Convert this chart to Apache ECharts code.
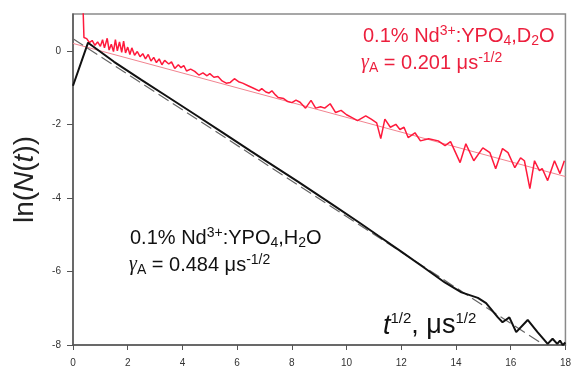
<!DOCTYPE html>
<html><head><meta charset="utf-8">
<script src="https://cdn.jsdelivr.net/npm/echarts@6/dist/echarts.min.js"></script>
<style>html,body{margin:0;padding:0;background:#fff}#c{width:574px;height:368px}</style>
</head><body><div id="c"></div>
<script>
const xTicks = [0, 2, 4, 6, 8, 10, 12, 14, 16, 18];
const yTicks = [-8, -6, -4, -2, 0];

// 0.1% Nd3+:YPO4, D2O  (red)
const d2oX = [0.35,0.40,0.5,0.6,0.7,0.8,0.9,1.0,1.08,1.15,1.25,1.32,1.4,1.48,1.55,1.62,1.7,1.78,1.85,1.92,2.0,2.08,2.15,2.25,2.35,2.45,2.55,2.65,2.75,2.85,2.95,3.05,3.15,3.25,3.35,3.5,3.6,3.72,3.85,3.95,4.05,4.15,4.3,4.45,4.6,4.75,4.9,5.0,5.15,5.3,5.45,5.6,5.75,5.9,6.05,6.2,6.4,6.6,6.8,6.9,7.05,7.16,7.27,7.4,7.5,7.7,7.85,8.0,8.15,8.3,8.5,8.7,8.87,9.05,9.2,9.4,9.6,9.8,10.0,10.2,10.4,10.7,10.9,11.1,11.25,11.4,11.6,11.8,11.95,12.1,12.25,12.5,12.7,13.0,13.35,13.6,13.8,14.15,14.36,14.65,14.98,15.24,15.45,15.7,15.9,16.15,16.36,16.5,16.7,16.87,17.05,17.15,17.35,17.6,17.8,17.96];
const d2oY = [1.6,0.36,0.33,0.22,0.28,0.15,0.24,0.12,0.30,0.08,0.34,0.02,0.18,-0.02,0.30,0.0,0.24,-0.04,0.26,-0.06,0.1,-0.1,0.08,-0.12,-0.02,-0.16,-0.08,-0.22,-0.1,-0.28,-0.18,-0.32,-0.22,-0.38,-0.26,-0.36,-0.3,-0.48,-0.38,-0.46,-0.40,-0.55,-0.5,-0.56,-0.66,-0.6,-0.68,-0.62,-0.72,-0.7,-0.82,-0.88,-0.86,-0.76,-0.84,-0.88,-0.95,-1.02,-1.09,-1.03,-1.12,-1.15,-1.09,-1.2,-1.27,-1.3,-1.38,-1.41,-1.34,-1.4,-1.56,-1.35,-1.56,-1.52,-1.56,-1.44,-1.68,-1.62,-1.74,-1.82,-1.9,-1.77,-1.86,-1.96,-2.39,-1.86,-2.08,-2.0,-2.14,-2.08,-2.36,-2.23,-2.45,-2.39,-2.45,-2.58,-2.47,-3.04,-2.53,-2.99,-2.64,-2.77,-3.21,-2.66,-2.77,-3.18,-2.91,-2.99,-3.75,-2.99,-3.26,-3.2,-3.53,-2.99,-3.34,-2.99];
const d2oFitX = [0, 18];
const d2oFitY = [0.2, -3.42];

// 0.1% Nd3+:YPO4, H2O  (black)
const h2oX = [0,0.55,1.5,2.5,3.5,4.6,5.5,6.5,7.5,8.25,9.5,10.5,11.16,12,12.8,13.59,14.2,14.8,15.1,15.53,15.7,15.95,16.2,16.62,16.98,17.35,17.53,17.7,17.8,17.9,18];
const h2oY = [-0.95,0.22,-0.30,-0.79,-1.27,-1.80,-2.24,-2.73,-3.21,-3.57,-4.19,-4.69,-5.03,-5.46,-5.88,-6.30,-6.57,-6.72,-6.86,-7.25,-7.38,-7.25,-7.65,-7.32,-7.65,-7.97,-7.83,-7.97,-7.88,-8.0,-7.93];
const h2oFitX = [0, 17.2];
const h2oFitY = [0.33, -7.99];

const zip = (a, b) => a.map((v, i) => [v, b[i]]);
const FONT = 'Liberation Sans, Arial, sans-serif';
const RED = '#ec1f3d';

function richSet(size, color, lh, supSize) {
  const s = supSize || 13;
  return {
    n: { fontSize: size, fontFamily: FONT, color: color, fill: color, lineHeight: lh },
    i: { fontSize: size, fontFamily: FONT, color: color, fill: color, fontStyle: 'italic', lineHeight: lh },
    g: { fontSize: size, fontFamily: 'Liberation Serif, serif', color: color, fill: color, fontStyle: 'italic', lineHeight: lh },
    sup: { fontSize: s, fontFamily: FONT, color: color, fill: color, verticalAlign: 'top', lineHeight: s + 2 },
    sub: { fontSize: s, fontFamily: FONT, color: color, fill: color, verticalAlign: 'bottom', lineHeight: s }
  };
}

const chart = echarts.init(document.getElementById('c'));
chart.setOption({
  animation: false,
  backgroundColor: '#fff',
  grid: { left: 73, right: 6, top: 14, bottom: 23, show: true, borderColor: '#8a8a8a', borderWidth: 1.5 },
  xAxis: {
    type: 'value', min: 0, max: 18, interval: 2,
    axisLine: { show: true, onZero: false, lineStyle: { color: '#555', width: 1.5 } },
    axisTick: { show: true, inside: false, length: 5, lineStyle: { color: '#555' }, customValues: xTicks },
    axisLabel: { fontSize: 10, color: '#333', margin: 13, fontFamily: FONT, customValues: xTicks },
    splitLine: { show: false }
  },
  yAxis: {
    type: 'value', min: -8, max: 1, interval: 2,
    axisLine: { show: true, onZero: false, lineStyle: { color: '#555', width: 1.5 } },
    axisTick: { show: true, inside: false, length: 6, lineStyle: { color: '#555' }, customValues: yTicks },
    axisLabel: { fontSize: 10, color: '#333', margin: 12, fontFamily: FONT, customValues: yTicks },
    splitLine: { show: false },
    name: '{n|ln(}{i|N}{n|(}{i|t}{n|))}',
    nameLocation: 'middle', nameRotate: 90, nameGap: 33,
    nameTextStyle: { rich: richSet(28, '#222', 30) }
  },
  series: [
    { type: 'line', data: zip(d2oFitX, d2oFitY), showSymbol: false, lineStyle: { color: '#f2838f', width: 1 }, z: 2 },
    { type: 'line', data: zip(d2oX, d2oY), showSymbol: false, lineStyle: { color: '#ff1a3c', width: 1.5 }, z: 3 },
    { type: 'line', data: zip(h2oFitX, h2oFitY), showSymbol: false, lineStyle: { color: '#666', width: 1.2, type: [12, 5] }, z: 4 },
    { type: 'line', data: zip(h2oX, h2oY), showSymbol: false, lineStyle: { color: '#111', width: 2 }, z: 5 }
  ],
  graphic: [
    { type: 'text', left: 363, top: 24, z: 10, style: { rich: richSet(20, RED, 24, 14), text: '{n|0.1% Nd}{sup|3+}{n|:YPO}{sub|4}{n|,D}{sub|2}{n|O}' } },
    { type: 'text', left: 361, top: 51, z: 10, style: { rich: richSet(20, RED, 24, 14), text: '{g|γ}{sub|A}{n| = 0.201 μs}{sup|-1/2}' } },
    { type: 'text', left: 130, top: 226, z: 10, style: { rich: richSet(20, '#111', 24, 14), text: '{n|0.1% Nd}{sup|3+}{n|:YPO}{sub|4}{n|,H}{sub|2}{n|O}' } },
    { type: 'text', left: 129, top: 253, z: 10, style: { rich: richSet(20, '#111', 24, 14), text: '{g|γ}{sub|A}{n| = 0.484 μs}{sup|-1/2}' } },
    { type: 'text', left: 383, top: 311, z: 10, style: { rich: richSet(27, '#111', 30, 15), text: '{i|t}{sup|1/2}{n|, μs}{sup|1/2}' } }
  ]
});
</script>
</body></html>
